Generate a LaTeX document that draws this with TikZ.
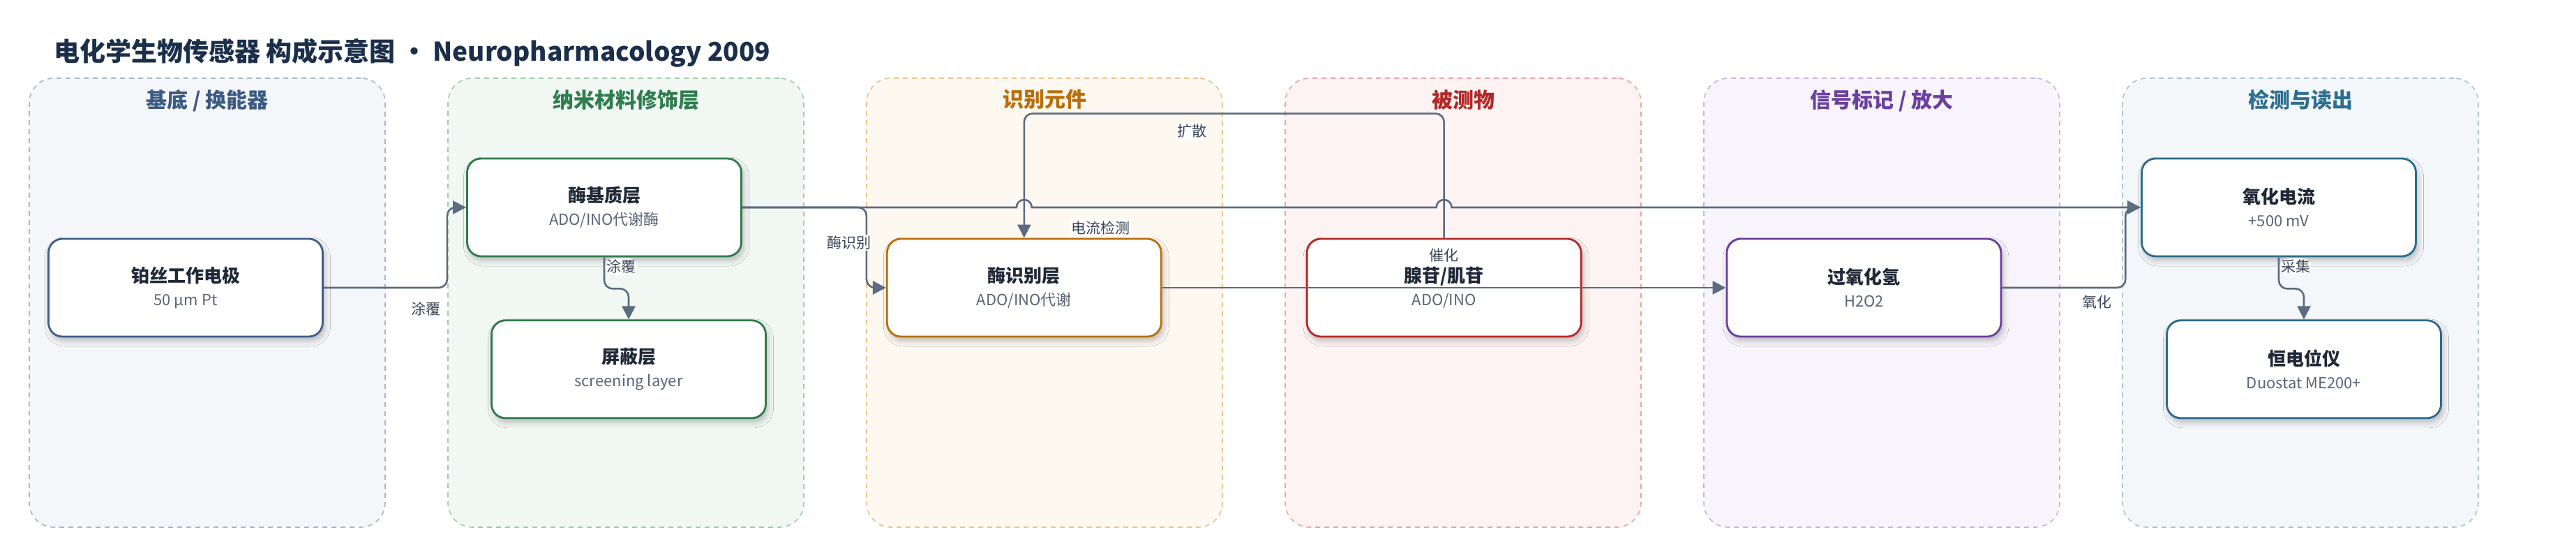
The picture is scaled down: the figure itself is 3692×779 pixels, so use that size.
\documentclass[tikz,border=0pt]{standalone}
\usepackage{fontspec}
\setmainfont{Noto Sans CJK SC}
\usepackage{tikz}
\usetikzlibrary{positioning, calc, arrows.meta, shadows.blur}

\definecolor{inkdark}{HTML}{1B2F4B}
\definecolor{namecol}{HTML}{1F2937}
\definecolor{subcol}{HTML}{5A6475}
\definecolor{linkcol}{HTML}{5B6B80}
\definecolor{lblcol}{HTML}{3A4556}
% panel colours: edge / fill / title / node
\definecolor{baseedge}{HTML}{A9B6C8}\definecolor{basefill}{HTML}{F4F6FA}\definecolor{basetitle}{HTML}{3B5B82}\definecolor{basenode}{HTML}{3F5F8A}
\definecolor{nanoedge}{HTML}{9FCBAE}\definecolor{nanofill}{HTML}{F1F8F3}\definecolor{nanotitle}{HTML}{2F7D4E}\definecolor{nanonode}{HTML}{2F7A4B}
\definecolor{recedge}{HTML}{E9C28C}\definecolor{recfill}{HTML}{FDF8F0}\definecolor{rectitle}{HTML}{B86E0A}\definecolor{recnode}{HTML}{B8700D}
\definecolor{anaedge}{HTML}{EBA3A3}\definecolor{anafill}{HTML}{FDF3F3}\definecolor{anatitle}{HTML}{B42828}\definecolor{ananode}{HTML}{B52A2A}
\definecolor{sigedge}{HTML}{C9B3E2}\definecolor{sigfill}{HTML}{F7F4FB}\definecolor{sigtitle}{HTML}{6B3FA0}\definecolor{signode}{HTML}{6A3D9E}
\definecolor{readedge}{HTML}{A9C5D2}\definecolor{readfill}{HTML}{F3F7F9}\definecolor{readtitle}{HTML}{2E6E8F}\definecolor{readnode}{HTML}{2E6A8A}

\newcommand{\nodename}[1]{{\fontsize{26}{30}\selectfont\bfseries\color{namecol}#1}}
\newcommand{\nodesub}[1]{{\fontsize{22}{26}\selectfont\color{subcol}#1}}

\begin{document}
\begin{tikzpicture}[x=1pt, y=1pt,
                        panel/.style={rectangle, rounded corners=35pt, dashed, dash pattern=on 7pt off 6pt, line width=1.6pt, minimum width=510pt, minimum height=643pt},
                        paneltitle/.style={font=\fontsize{30}{34}\selectfont\bfseries, inner sep=2pt},
                        box/.style={rectangle, rounded corners=20pt, fill=white, draw=#1, line width=2.8pt, minimum width=393pt, minimum height=140pt, align=center, font=\fontsize{22}{33}\selectfont,
                                    blur shadow={shadow xshift=3pt, shadow yshift=-6pt, shadow blur radius=8pt, shadow opacity=25}},
                        link/.style={draw=linkcol, line width=2.6pt, rounded corners=12pt, -{Triangle[length=19pt, width=19pt]}},
                        lbl/.style={font=\fontsize{21}{24}\selectfont, text=lblcol, fill=white, inner sep=2pt},
                        ]
        \useasboundingbox (0,0) rectangle (3692,-779);

        %Title
        \node[anchor=west, inner sep=0pt, font=\fontsize{37}{40}\selectfont\bfseries, text=inkdark] (title) at (77,-76) {电化学生物传感器 构成示意图 · Neuropharmacology 2009};

        %Panels
        \node[panel, draw=baseedge, fill=basefill]  (pbase) at (297,-433.5)  {};
        \node[panel, draw=nanoedge, fill=nanofill]  (pnano) at (897,-433.5)  {};
        \node[panel, draw=recedge,  fill=recfill]   (prec)  at (1497,-433.5) {};
        \node[panel, draw=anaedge,  fill=anafill]   (pana)  at (2097,-433.5) {};
        \node[panel, draw=sigedge,  fill=sigfill]   (psig)  at (2697,-433.5) {};
        \node[panel, draw=readedge, fill=readfill]  (pread) at (3297,-433.5) {};

        \node[paneltitle, text=basetitle] (tbase) [below=15pt of pbase.north] {基底 / 换能器};
        \node[paneltitle, text=nanotitle] (tnano) [below=15pt of pnano.north] {纳米材料修饰层};
        \node[paneltitle, text=rectitle]  (trec)  [below=15pt of prec.north]  {识别元件};
        \node[paneltitle, text=anatitle]  (tana)  [below=15pt of pana.north]  {被测物};
        \node[paneltitle, text=sigtitle]  (tsig)  [below=15pt of psig.north]  {信号标记 / 放大};
        \node[paneltitle, text=readtitle] (tread) [below=15pt of pread.north] {检测与读出};

        %Nodes
        \node[box=basenode]  (elec)    at (266,-412)                       {\nodename{铂丝工作电极}\\\nodesub{50 µm Pt}};
        \node[box=nanonode]  (enzsub)  at (866,-297)                       {\nodename{酶基质层}\\\nodesub{ADO/INO代谢酶}};
        \node[box=nanonode]  (screen)  [below=89pt of enzsub, xshift=35pt] {\nodename{屏蔽层}\\\nodesub{screening layer}};
        \node[box=recnode]   (enzrec)  [right=806pt of elec]               {\nodename{酶识别层}\\\nodesub{ADO/INO代谢}};
        \node[box=ananode]   (analyte) [right=206pt of enzrec]             {\nodename{腺苷/肌苷}\\\nodesub{ADO/INO}};
        \node[box=signode]   (hperox)  [right=206pt of analyte]            {\nodename{过氧化氢}\\\nodesub{H2O2}};
        \node[box=readnode]  (oxcur)   at (3266,-297)                      {\nodename{氧化电流}\\\nodesub{+500 mV}};
        \node[box=readnode]  (pstat)   [below=89pt of oxcur, xshift=36pt]  {\nodename{恒电位仪}\\\nodesub{Duostat ME200+}};

        %Lines
        \draw[link] (elec.east) -- ++(177pt,0) node[lbl, pos=0.83, below=17pt] {涂覆} |- (enzsub.west);
        \draw[link] (enzsub.south) -- node[lbl, pos=0.3, anchor=west] {涂覆} ++(0,-45pt) -| (screen.north);
        \draw[link] (enzsub.east) -- ++(178pt,0) |- node[lbl, pos=0.22, anchor=east, xshift=10pt] {酶识别} (enzrec.west);
        \draw[link, sharp corners] (enzsub.east) -- ([xshift=-11pt]enzrec.north |- enzsub.east) arc[start angle=180, end angle=0, radius=11pt]
              -- node[lbl, pos=0.17, below=16pt] {电流检测} ([xshift=-11pt]analyte.north |- enzsub.east) arc[start angle=180, end angle=0, radius=11pt] -- (oxcur.west);
        \draw[link] (analyte.north) -- ++(0,178pt) -| node[lbl, pos=0.3, below=12pt] {扩散} (enzrec.north);
        \draw[link] (enzrec.east) -- node[lbl, fill=none, above=34pt] {催化} (hperox.west);
        \draw[link] (hperox.east) -- ++(177pt,0) node[lbl, pos=0.77, below=8pt] {氧化} |- (oxcur.west);
        \draw[link] (oxcur.south) -- node[lbl, pos=0.3, anchor=west] {采集} ++(0,-45pt) -| (pstat.north);
    \end{tikzpicture}
\end{document}
